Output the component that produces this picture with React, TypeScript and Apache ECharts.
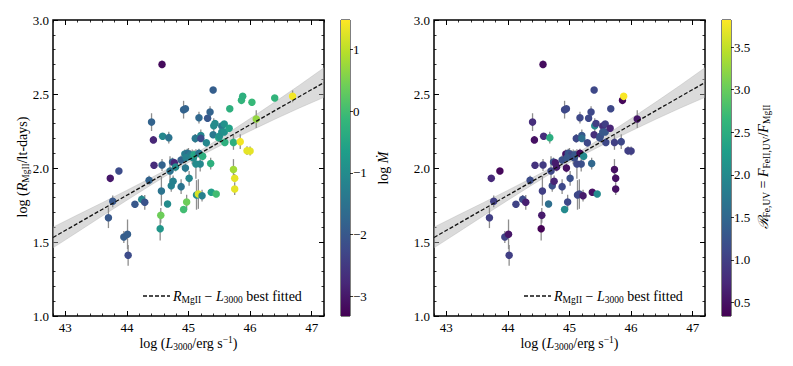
import React, { useEffect, useRef } from "react";
import * as echarts from "echarts";

// ---------- data ----------
const logL = [44.57,45.40,43.73,43.87,43.77,43.70,43.95,44.01,44.02,44.13,44.24,44.29,44.36,44.40,44.43,44.44,44.58,44.57,44.56,44.55,44.54,44.68,44.66,44.70,44.74,44.77,44.72,44.75,44.79,44.88,44.88,44.92,44.95,44.92,44.97,44.94,44.98,45.00,45.03,44.96,45.06,45.01,44.95,45.08,45.09,45.13,45.16,45.11,45.17,45.20,45.20,45.17,45.19,45.22,45.23,45.12,45.29,45.31,45.35,45.36,45.37,45.40,45.41,45.43,45.45,45.49,45.50,45.54,45.54,45.58,45.58,45.59,45.66,45.67,45.73,45.73,45.75,45.75,45.84,45.86,45.88,45.95,46.00,46.03,46.10,46.40,46.69];
const logR = [2.70,2.527,1.93,1.98,1.775,1.664,1.534,1.552,1.41,1.755,1.788,1.768,1.917,2.31,2.19,2.018,2.214,2.02,1.845,1.68,1.59,2.205,1.757,1.98,2.04,2.035,1.88,1.91,2.007,2.054,1.874,2.394,2.40,1.72,1.77,2.095,2.10,2.095,2.09,2.07,2.075,1.93,2.00,2.07,2.09,1.818,1.824,2.20,2.34,2.22,2.20,2.10,2.027,1.813,2.08,2.027,2.17,2.336,2.378,2.03,1.836,2.225,2.286,2.30,1.824,2.205,2.215,2.284,2.243,2.243,2.297,2.173,2.268,2.40,2.173,1.99,1.93,1.858,2.178,2.457,2.484,2.117,2.115,2.444,2.331,2.473,2.484];
const errR = [0.02,0.02,0.02,0.02,0.04,0.07,0.04,0.10,0.07,0.02,0.03,0.05,0.03,0.06,0.02,0.02,0.02,0.04,0.10,0.05,0.08,0.04,0.02,0.10,0.03,0.02,0.04,0.04,0.03,0.03,0.05,0.06,0.02,0.02,0.05,0.03,0.03,0.04,0.03,0.03,0.05,0.05,0.03,0.04,0.03,0.10,0.10,0.03,0.04,0.04,0.02,0.03,0.05,0.04,0.03,0.10,0.02,0.02,0.04,0.04,0.02,0.02,0.05,0.02,0.02,0.03,0.02,0.02,0.02,0.02,0.02,0.02,0.02,0.02,0.05,0.07,0.03,0.04,0.05,0.02,0.02,0.03,0.03,0.02,0.06,0.02,0.04];
const logMdot = [-3.2,-1.9,-3.0,-2.2,-2.0,-2.0,-1.9,-1.9,-2.2,-2.0,-1.1,-2.1,-1.8,-1.8,-2.8,-2.7,-1.1,-1.8,-1.5,0.4,-0.8,-1.5,-1.0,-1.5,-1.8,-2.8,-1.2,-1.2,-1.0,-1.8,-1.5,-1.8,-1.8,0.0,0.4,-1.3,-1.4,-1.6,-1.3,-1.2,-1.1,-1.1,-1.4,-1.0,-0.5,-1.0,1.2,-1.4,-1.7,-1.1,-2.2,-1.5,-1.1,-1.2,-0.3,-1.0,-1.1,-2.0,-1.8,-0.3,-0.6,-1.4,-1.0,-1.0,0.0,-0.5,-0.9,-1.4,-1.0,-0.9,-0.9,-0.3,-0.6,-0.3,-0.3,0.8,1.3,1.3,1.4,-0.2,-0.3,1.3,1.3,-0.1,0.7,-0.2,1.4];
const rFeUV: (number | null)[] = [0.45,1.1,0.75,0.4,1.0,1.0,1.05,0.55,1.0,1.05,1.15,0.65,1.15,0.8,0.5,0.85,0.8,0.95,1.0,0.6,0.35,2.5,1.6,1.1,1.2,0.6,1.2,0.7,0.6,1.2,1.1,1.1,1.1,2.0,1.1,0.5,1.2,1.3,1.1,1.3,1.2,1.2,0.5,1.2,1.3,1.1,1.1,1.1,1.1,1.3,1.6,0.4,1.2,0.6,2.0,1.1,1.1,1.1,1.1,1.5,0.5,0.8,2.0,1.0,2.0,1.2,1.2,0.8,1.3,1.3,1.0,1.1,0.7,1.1,1.0,0.5,0.5,0.5,1.1,0.4,3.8,1.0,1.0,null,0.55,null,null];

// best-fit line and its confidence band
const FIT_X0 = 45.0;
const FIT_Y0 = 2.054;
const FIT_SLOPE = 0.238;
const BAND_X = [42.8, 43.2, 43.6, 44.0, 44.4, 44.8, 45.2, 45.6, 46.0, 46.4, 46.8, 47.2];
const BAND_HALF = [0.07, 0.058, 0.045, 0.034, 0.024, 0.017, 0.018, 0.028, 0.042, 0.058, 0.077, 0.1];

// axes
const X_MIN = 42.8, X_MAX = 47.2;
const Y_MIN = 1.0, Y_MAX = 3.0;
const X_MAJOR = [43, 44, 45, 46, 47];
const Y_MAJOR = [1.0, 1.5, 2.0, 2.5, 3.0];
const CB1_MIN = -3.32, CB1_MAX = 1.48;
const CB1_TICKS = [-3, -2, -1, 0, 1];
const CB2_MIN = 0.34, CB2_MAX = 3.82;
const CB2_TICKS = [0.5, 1.0, 1.5, 2.0, 2.5, 3.0, 3.5];

const VIRIDIS = ["#440154", "#482878", "#3e4989", "#31688e", "#26828e", "#1f9e89", "#35b779", "#6ece58", "#b5de2b", "#fde725"];

const FONT = "Liberation Serif";

function range(a: number, b: number, step: number) {
  const out: number[] = [];
  const n = Math.round((b - a) / step);
  for (let i = 0; i <= n; i++) out.push(Math.round((a + i * step) * 1000) / 1000);
  return out;
}
const X_MINOR = range(42.8, 47.2, 0.2);
const Y_MINOR = range(1.0, 3.0, 0.1);

const fit = (x: number) => FIT_Y0 + FIT_SLOPE * (x - FIT_X0);

const RICH = {
  n: { fontFamily: FONT, fontSize: 14, lineHeight: 17, color: "#000" },
  i: { fontFamily: FONT, fontSize: 14, lineHeight: 17, fontStyle: "italic", color: "#000" },
  sub: { fontFamily: FONT, fontSize: 9.5, lineHeight: 10, verticalAlign: "bottom", color: "#000" },
  sup: { fontFamily: FONT, fontSize: 9.5, lineHeight: 10, verticalAlign: "top", color: "#000" },
};

function xAx(grid: number, pos: string, major: boolean, labels: boolean) {
  return {
    type: "value", gridIndex: grid, position: pos, min: X_MIN, max: X_MAX,
    axisLine: { show: false, onZero: false }, splitLine: { show: false },
    axisTick: { show: true, inside: true, length: major ? 5 : 2.5, customValues: major ? X_MAJOR : X_MINOR, lineStyle: { color: "#000", width: major ? 1 : 0.8 } },
    axisLabel: labels
      ? { show: true, customValues: X_MAJOR, fontFamily: FONT, fontSize: 13, color: "#000", margin: 5, formatter: (v: number) => String(v) }
      : { show: false },
  };
}
function yAx(grid: number, pos: string, major: boolean, labels: boolean) {
  return {
    type: "value", gridIndex: grid, position: pos, min: Y_MIN, max: Y_MAX,
    axisLine: { show: false, onZero: false }, splitLine: { show: false },
    axisTick: { show: true, inside: true, length: major ? 5 : 2.5, customValues: major ? Y_MAJOR : Y_MINOR, lineStyle: { color: "#000", width: major ? 1 : 0.8 } },
    axisLabel: labels
      ? { show: true, customValues: Y_MAJOR, fontFamily: FONT, fontSize: 13, color: "#000", margin: 4, formatter: (v: number) => v.toFixed(1) }
      : { show: false },
  };
}
function cbY(grid: number, min: number, max: number, ticks: number[], fmt: (v: number) => string) {
  return {
    type: "value", gridIndex: grid, position: "right", min, max,
    axisLine: { show: false, onZero: false }, splitLine: { show: false },
    axisTick: { show: true, inside: false, length: 3, customValues: ticks, lineStyle: { color: "#000", width: 0.8 } },
    axisLabel: { show: true, customValues: ticks, fontFamily: FONT, fontSize: 13, color: "#000", margin: 3, formatter: fmt },
  };
}
function cbX(grid: number) {
  return { type: "value", gridIndex: grid, min: 0, max: 1, show: false, axisLine: { onZero: false } };
}

const gradientStops = VIRIDIS.map((c, i) => ({ offset: i / (VIRIDIS.length - 1), color: c }));

function colorbarSeries(xi: number, yi: number, yv: number) {
  return {
    type: "custom", xAxisIndex: xi, yAxisIndex: yi, silent: true, z: 1,
    data: [[0.5, yv]],
    renderItem: (params: any) => {
      const cs = params.coordSys;
      return {
        type: "rect",
        shape: { x: cs.x, y: cs.y, width: cs.width, height: cs.height },
        style: { fill: new echarts.graphic.LinearGradient(0, 1, 0, 0, gradientStops) },
      };
    },
  };
}

function bandSeries(xi: number, yi: number) {
  return {
    type: "custom", xAxisIndex: xi, yAxisIndex: yi, silent: true, z: 1, clip: true,
    data: [[FIT_X0, FIT_Y0]],
    renderItem: (_p: any, api: any) => {
      const up = BAND_X.map((x, i) => api.coord([x, fit(x) + BAND_HALF[i]]));
      const lo = BAND_X.map((x, i) => api.coord([x, fit(x) - BAND_HALF[i]])).reverse();
      return {
        type: "polygon",
        shape: { points: up.concat(lo) },
        style: { fill: "rgba(175,175,175,0.45)", stroke: "rgba(165,165,165,0.4)", lineWidth: 0.8 },
      };
    },
  };
}

function errSeries(xi: number, yi: number, rows: number[][]) {
  return {
    type: "custom", xAxisIndex: xi, yAxisIndex: yi, silent: true, z: 2,
    data: rows,
    renderItem: (_p: any, api: any) => {
      const x = api.value(0), y = api.value(1), e = api.value(2);
      const p1 = api.coord([x, y - e]);
      const p2 = api.coord([x, y + e]);
      return { type: "line", shape: { x1: p1[0], y1: p1[1], x2: p2[0], y2: p2[1] }, style: { stroke: "#8e8e8e", lineWidth: 1.3 } };
    },
  };
}

function fitSeries(xi: number, yi: number) {
  return {
    type: "line", xAxisIndex: xi, yAxisIndex: yi, silent: true, z: 5,
    data: [[X_MIN, fit(X_MIN)], [X_MAX, fit(X_MAX)]],
    showSymbol: false, symbol: "none",
    lineStyle: { color: "#111", width: 1.3, type: [4, 2] },
  };
}

const leftRows = logL.map((x, i) => [x, logR[i], logMdot[i]]);
const leftErr = logL.map((x, i) => [x, logR[i], errR[i]]);
const rightIdx = logL.map((_, i) => i).filter((i) => rFeUV[i] !== null);
const rightRows = rightIdx.map((i) => [logL[i], logR[i], rFeUV[i] as number]);
const rightErr = rightIdx.map((i) => [logL[i], logR[i], errR[i]]);

const minusFmt = (v: number) => (v < 0 ? "\u2212" + Math.abs(v) : String(v));

function legend(x: number, y: number) {
  return [
    { type: "line", shape: { x1: x, y1: y, x2: x + 27, y2: y }, style: { stroke: "#111", lineWidth: 1.3, lineDash: [4, 2] } },
    {
      type: "text", x: x + 30, y,
      style: { text: "{i|R}{sub|MgII}{n| \u2212 }{i|L}{sub|3000}{n| best fitted}", rich: RICH, align: "left", verticalAlign: "middle" },
    },
  ];
}

const xTitle = "{n|log (}{i|L}{sub|3000}{n|/erg s}{sup|\u22121}{n|)}";

const option: any = {
  animation: false,
  backgroundColor: "#fff",
  grid: [
    { left: 53, top: 20, width: 271, height: 296, show: true, borderColor: "#000", borderWidth: 1.5, backgroundColor: "transparent", containLabel: false },
    { left: 341, top: 20, width: 9, height: 296, show: true, borderColor: "#000", borderWidth: 1, backgroundColor: "transparent" },
    { left: 434, top: 20, width: 271, height: 296, show: true, borderColor: "#000", borderWidth: 1.5, backgroundColor: "transparent" },
    { left: 722, top: 20, width: 9, height: 296, show: true, borderColor: "#000", borderWidth: 1, backgroundColor: "transparent" },
  ],
  xAxis: [
    xAx(0, "bottom", false, true), xAx(0, "bottom", true, false), xAx(0, "top", false, false), xAx(0, "top", true, false),
    cbX(1),
    xAx(2, "bottom", false, true), xAx(2, "bottom", true, false), xAx(2, "top", false, false), xAx(2, "top", true, false),
    cbX(3),
  ],
  yAxis: [
    yAx(0, "left", false, true), yAx(0, "left", true, false), yAx(0, "right", false, false), yAx(0, "right", true, false),
    cbY(1, CB1_MIN, CB1_MAX, CB1_TICKS, minusFmt),
    yAx(2, "left", false, true), yAx(2, "left", true, false), yAx(2, "right", false, false), yAx(2, "right", true, false),
    cbY(3, CB2_MIN, CB2_MAX, CB2_TICKS, (v: number) => v.toFixed(1)),
  ],
  visualMap: [
    { type: "continuous", show: false, seriesIndex: 3, dimension: 2, min: CB1_MIN, max: CB1_MAX, inRange: { color: VIRIDIS } },
    { type: "continuous", show: false, seriesIndex: 8, dimension: 2, min: CB2_MIN, max: CB2_MAX, inRange: { color: VIRIDIS } },
  ],
  series: [
    // left panel: 0 band, 1 errors, 2 fit, 3 scatter, 4 colorbar
    bandSeries(0, 0),
    errSeries(0, 0, leftErr),
    fitSeries(0, 0),
    { type: "scatter", xAxisIndex: 0, yAxisIndex: 0, z: 3, data: leftRows, symbolSize: 7.5, itemStyle: { opacity: 1 } },
    colorbarSeries(4, 4, 0),
    // right panel: 5 band, 6 errors, 7 fit, 8 scatter, 9 colorbar
    bandSeries(5, 5),
    errSeries(5, 5, rightErr),
    fitSeries(5, 5),
    { type: "scatter", xAxisIndex: 5, yAxisIndex: 5, z: 3, data: rightRows, symbolSize: 7.5, itemStyle: { opacity: 1 } },
    colorbarSeries(9, 9, 1),
  ],
  graphic: [
    ...legend(143, 296),
    ...legend(524, 296),
    { type: "text", x: 188.5, y: 343, style: { text: xTitle, rich: RICH, align: "center", verticalAlign: "middle" } },
    { type: "text", x: 569.5, y: 343, style: { text: xTitle, rich: RICH, align: "center", verticalAlign: "middle" } },
    {
      type: "text", x: 22, y: 167, rotation: Math.PI / 2,
      style: { text: "{n|log (}{i|R}{sub|MgII}{n|/lt-days)}", rich: RICH, align: "center", verticalAlign: "middle" },
    },
    {
      type: "text", x: 383, y: 168, rotation: Math.PI / 2,
      style: { text: "{n|log }{i|\u1E40}", rich: RICH, align: "center", verticalAlign: "middle" },
    },
    {
      type: "text", x: 763, y: 167, rotation: Math.PI / 2,
      style: { text: "{i|\u211B}{sub|Fe,UV}{n| = }{i|F}{sub|FeII,UV}{n|/}{i|F}{sub|MgII}", rich: RICH, align: "center", verticalAlign: "middle" },
    },
  ],
};

export default function App() {
  const ref = useRef<HTMLDivElement>(null);
  useEffect(() => {
    if (!ref.current) return;
    const chart = echarts.init(ref.current, null, { renderer: "svg" });
    chart.setOption(option);
    return () => chart.dispose();
  }, []);
  return <div ref={ref} style={{ position: "absolute", left: 0, top: 0, width: 793, height: 366, background: "#fff" }} />;
}
